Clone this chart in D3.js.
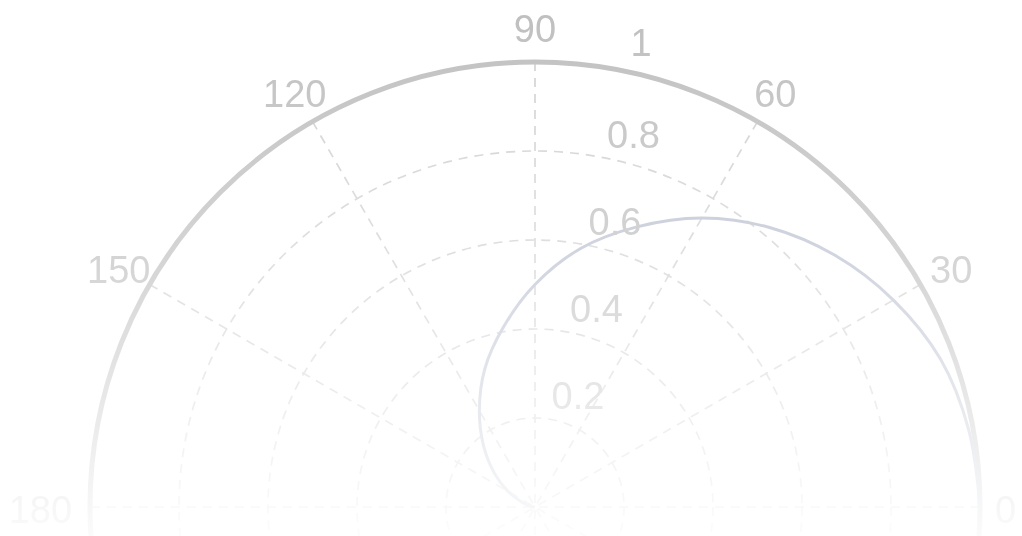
<!DOCTYPE html>
<html><head><meta charset="utf-8">
<script src="https://cdn.jsdelivr.net/npm/d3@7"></script>
<style>html,body{margin:0;padding:0;background:#fff;}svg{display:block;}</style>
</head><body>
<script>
// Data
const thetaDeg = [0,10,20,30,40,50,60,70,80,90,100,110,120,130,140,150,160,170,180];
const rValues  = [1.0,0.99,0.97,0.93,0.88,0.82,0.75,0.67,0.59,0.5,0.41,0.33,0.25,0.18,0.12,0.07,0.03,0.01,0.0];
const radialTicks = [0.2,0.4,0.6,0.8,1];
const radialTickLabels = ["0.2","0.4","0.6","0.8","1"];
const angleTicks = [0,30,60,90,120,150,180];
const angleTickLabels = ["0","30","60","90","120","150","180"];

const W = 1022, H = 536;
const cx = 535, cy = 507, R = 445;
const svg = d3.select("body").append("svg").attr("width", W).attr("height", H);
const defs = svg.append("defs");
defs.append("filter").attr("id","soft").append("feGaussianBlur").attr("stdDeviation",0.7);

const r = d3.scaleLinear().domain([0,1]).range([0,R]);
const toRad = d3.scaleLinear().domain([0,360]).range([0,2*Math.PI]);
const g = svg.append("g").attr("transform", `translate(${cx},${cy})`).attr("filter","url(#soft)");
const px = (rad, deg) => rad*Math.cos(toRad(deg));
const py = (rad, deg) => -rad*Math.sin(toRad(deg));

// dashed circles
g.selectAll("circle.grid").data(radialTicks.slice(0,-1)).join("circle")
  .attr("r", d => r(d)).attr("fill","none")
  .attr("stroke","#c2c2c2").attr("stroke-width",1.7).attr("stroke-dasharray","9,7");
// spokes (full diameters)
g.selectAll("line.spoke").data([0,30,60,90,120,150]).join("line")
  .attr("x1", d => px(r(1),d)).attr("y1", d => py(r(1),d))
  .attr("x2", d => px(r(1),d+180)).attr("y2", d => py(r(1),d+180))
  .attr("stroke","#c2c2c2").attr("stroke-width",1.7).attr("stroke-dasharray","9,7");
// outer circle
g.append("circle").attr("r", r(1)).attr("fill","none")
  .attr("stroke","#acacac").attr("stroke-width",5);

// data curve
const line = d3.line()
  .x((d,i) => px(r(rValues[i]), thetaDeg[i]))
  .y((d,i) => py(r(rValues[i]), thetaDeg[i]))
  .curve(d3.curveCatmullRom);
g.append("path").datum(thetaDeg).attr("d", line)
  .attr("fill","none").attr("stroke","#a6adc2").attr("stroke-width",3);

// angle labels
const labR = R*1.08;
const angDx = {0:-10, 180:-14};
g.selectAll("text.ang").data(angleTicks).join("text")
  .attr("x", d => px(labR,d) + (angDx[d]||0)).attr("y", d => py(labR,d) + 3)
  .attr("text-anchor","middle").attr("dominant-baseline","central")
  .attr("font-family","Liberation Sans, Arial, sans-serif").attr("font-size",38)
  .attr("fill","#acacac")
  .text((d,i) => angleTickLabels[i]);
// radial labels
g.selectAll("text.rad").data(radialTicks).join("text")
  .attr("x", d => px(r(d),78) - 2 + (d===1?5:0)).attr("y", d => py(r(d),78) - 11 - (d===1?5:0))
  .attr("text-anchor","start")
  .attr("font-family","Liberation Sans, Arial, sans-serif").attr("font-size",38)
  .attr("fill","#acacac")
  .text((d,i) => radialTickLabels[i]);

// fading white overlay (the picture washes out toward the bottom)
const lg = defs.append("linearGradient").attr("id","fade").attr("x1",0).attr("y1",0).attr("x2",0).attr("y2",1);
lg.append("stop").attr("offset","0").attr("stop-color","#fff").attr("stop-opacity",0.22);
lg.append("stop").attr("offset","0.5").attr("stop-color","#fff").attr("stop-opacity",0.5);
lg.append("stop").attr("offset","1").attr("stop-color","#fff").attr("stop-opacity",0.95);
svg.append("rect").attr("width",W).attr("height",H).attr("fill","url(#fade)");
</script>
</body></html>
